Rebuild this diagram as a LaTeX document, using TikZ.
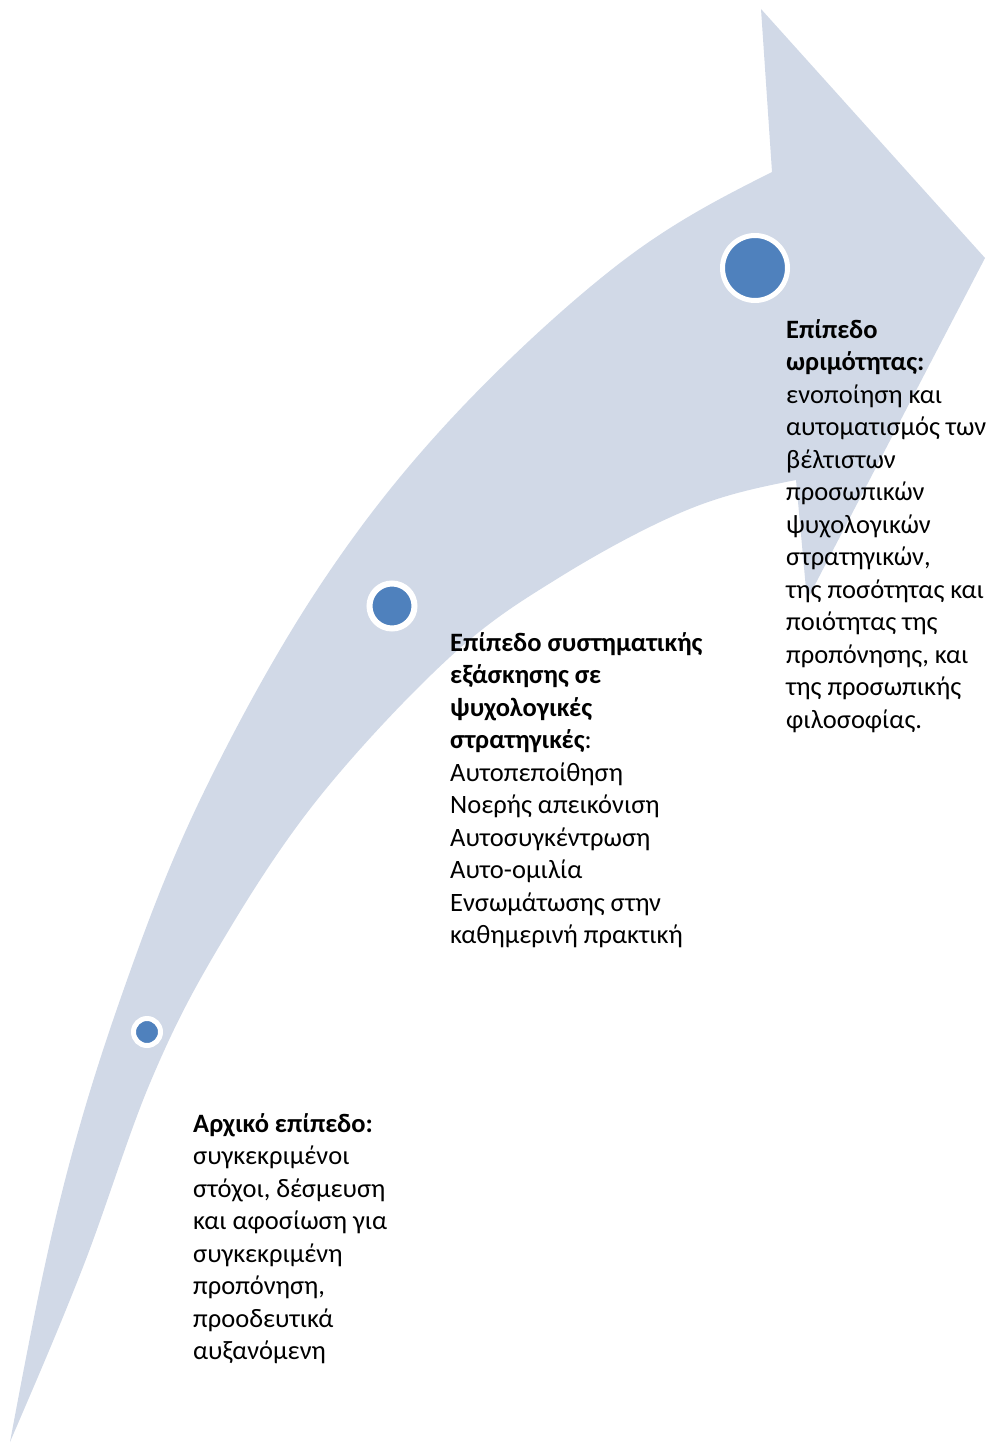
\documentclass[tikz,border=0pt]{standalone}
\usepackage{fontspec}
\setmainfont{Carlito}
\definecolor{arrowfill}{HTML}{D1D9E7}
\definecolor{dotblue}{HTML}{4F81BD}
\newcommand{\lbltext}[1]{\parbox[t]{300pt}{\fontsize{26.5}{32.5}\selectfont\raggedright #1}}
\begin{document}
\begin{tikzpicture}[x=1pt,y=-1pt,
  dot/.style={circle,fill=dotblue,draw=white,inner sep=0pt},
  label/.style={anchor=base west,inner sep=0pt}]
\useasboundingbox (0,0) rectangle (991,1445);
% curved arrow body and head
\fill[arrowfill] (10,1442)
  .. controls (25.8,1357.8) and (41.7,1273.7) .. (60,1200)
  .. controls (78.3,1126.3) and (96.7,1066.7) .. (120,1000)
  .. controls (143.3,933.3) and (167.2,868.3) .. (200,800)
  .. controls (232.8,731.7) and (275.3,653.3) .. (317,590)
  .. controls (358.7,526.7) and (399.5,474.5) .. (450,420)
  .. controls (500.5,365.5) and (566.3,304.3) .. (620,263)
  .. controls (673.7,221.7) and (722.8,196.8) .. (772,172)
  -- (761,9) -- (985,258) -- (807,600) -- (796,480)
  .. controls (761.2,486.9) and (726.3,493.8) .. (687,510)
  .. controls (647.7,526.2) and (599.5,552.5) .. (560,577)
  .. controls (520.5,601.5) and (490.5,619.8) .. (450,657)
  .. controls (409.5,694.2) and (355.8,751.2) .. (317,800)
  .. controls (278.2,848.8) and (244.8,902.8) .. (217,950)
  .. controls (189.2,997.2) and (172.3,1030.2) .. (150,1083)
  .. controls (127.7,1135.8) and (106.3,1207.2) .. (83,1267)
  .. controls (59.7,1326.8) and (34.8,1384.4) .. (10,1442) -- cycle;
\node[dot,line width=5pt,minimum size=65pt] (c3) at (755,268) {};
\node[dot,line width=6pt,minimum size=45pt] (c2) at (392,606) {};
\node[dot,line width=5pt,minimum size=27pt] (c1) at (147,1032) {};
\node[label] (t1) at (193,1132) {\lbltext{\textbf{Αρχικό επίπεδο:}\\συγκεκριμένοι\\στόχοι, δέσμευση\\και αφοσίωση για\\συγκεκριμένη\\προπόνηση,\\προοδευτικά\\αυξανόμενη}};
\node[label] (t2) at (450,651) {\lbltext{\textbf{Επίπεδο συστηματικής}\\\textbf{εξάσκησης σε}\\\textbf{ψυχολογικές}\\\textbf{στρατηγικές}:\\Αυτοπεποίθηση\\Νοερής απεικόνιση\\Αυτοσυγκέντρωση\\Αυτο-ομιλία\\Ενσωμάτωσης στην\\καθημερινή πρακτική}};
\node[label] (t3) at (786,338) {\lbltext{\textbf{Επίπεδο}\\\textbf{ωριμότητας:}\\ενοποίηση και\\αυτοματισμός των\\βέλτιστων\\προσωπικών\\ψυχολογικών\\στρατηγικών,\\της ποσότητας και\\ποιότητας της\\προπόνησης, και\\της προσωπικής\\φιλοσοφίας.}};
\end{tikzpicture}
\end{document}
